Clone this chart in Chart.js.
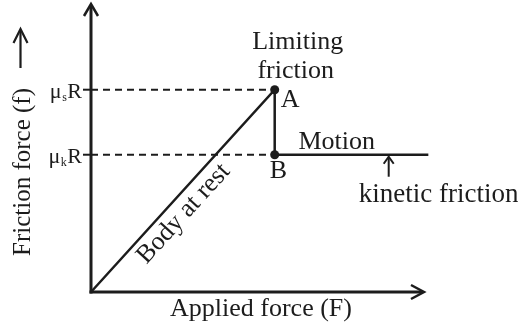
<!DOCTYPE html>
<html><head><meta charset="utf-8">
<script src="https://cdn.jsdelivr.net/npm/chart.js@4.4.1/dist/chart.umd.min.js"></script>
<style>html,body{margin:0;padding:0;background:#fff}#wrap{position:relative;width:518px;height:331px}</style>
</head><body><div id="wrap"><canvas id="c"></canvas></div>
<script>
// ---- data ----
const categories = ['O', 'A', 'B', 'Motion end'];
const appliedForce = [0, 5.5, 5.5, 10.1];
const frictionForce = [0, 7, 4.75, 4.75];
const tickValues = [7, 4.75];
const tickLabels = [['μ', 's', 'R'], ['μ', 'k', 'R']];
const pointNames = ['A', 'B'];
const xTitle = 'Applied force (F)';
const yTitle = 'Friction force (f)';
const noteLimiting = ['Limiting', 'friction'];
const noteMotion = 'Motion';
const noteKinetic = 'kinetic friction';
const noteRest = 'Body at rest';

const ink = '#1c1c1c';
const SERIF = '"Liberation Serif","Times New Roman",serif';

function arrowHead(ctx, tipX, tipY, dirX, dirY, len, half) {
  const bx = tipX - dirX * len, by = tipY - dirY * len;
  const px = -dirY, py = dirX;
  ctx.beginPath();
  ctx.moveTo(bx + px * half, by + py * half);
  ctx.lineTo(tipX, tipY);
  ctx.lineTo(bx - px * half, by - py * half);
  ctx.stroke();
}

const decor = {
  id: 'decor',
  beforeDatasetsDraw(chart) {
    const { ctx, chartArea: a } = chart;
    ctx.save();
    ctx.strokeStyle = ink;
    ctx.lineWidth = 3;
    ctx.beginPath(); ctx.moveTo(a.left, a.bottom + 1.5); ctx.lineTo(a.left, a.top + 2); ctx.stroke();
    ctx.beginPath(); ctx.moveTo(a.left - 1.5, a.bottom); ctx.lineTo(a.right - 2, a.bottom); ctx.stroke();
    ctx.lineWidth = 2.5;
    arrowHead(ctx, a.left, a.top + 1, 0, -1, 12, 7);
    arrowHead(ctx, a.right - 1, a.bottom, 1, 0, 13, 7);
    const ys = chart.scales.y;
    ctx.lineWidth = 2;
    tickValues.forEach(v => {
      const py = ys.getPixelForValue(v);
      ctx.beginPath(); ctx.moveTo(a.left - 8, py); ctx.lineTo(a.left, py); ctx.stroke();
    });
    ctx.restore();
  },
  afterDraw(chart) {
    const { ctx, chartArea: a } = chart;
    const xs = chart.scales.x, ys = chart.scales.y;
    ctx.save();
    ctx.fillStyle = ink;
    ctx.strokeStyle = ink;
    ctx.textBaseline = 'alphabetic';
    // tick labels with subscripts (right-aligned)
    tickValues.forEach((v, i) => {
      const [m, sub, r] = tickLabels[i];
      const py = ys.getPixelForValue(v) + 8;
      let x = a.left - 9;
      ctx.textAlign = 'left';
      ctx.font = '22px ' + SERIF;
      const wr = ctx.measureText(r).width;
      ctx.fillText(r, x - wr, py);
      x -= wr;
      ctx.font = '12px ' + SERIF;
      const ws = ctx.measureText(sub).width;
      ctx.fillText(sub, x - ws - 0.5, py + 3);
      x -= ws + 1;
      ctx.font = '22px ' + SERIF;
      const wm = ctx.measureText(m).width;
      ctx.fillText(m, x - wm, py);
    });
    const ax = xs.getPixelForValue(appliedForce[1]);
    const ay = ys.getPixelForValue(frictionForce[1]);
    const by = ys.getPixelForValue(frictionForce[2]);
    ctx.font = '26px ' + SERIF;
    ctx.textAlign = 'left';
    ctx.fillText(pointNames[0], ax + 6, ay + 17);
    ctx.fillText(pointNames[1], ax - 5, by + 23);
    ctx.textAlign = 'center';
    ctx.fillText(noteLimiting[0], ax + 23, ay - 41);
    ctx.fillText(noteLimiting[1], ax + 21, ay - 12);
    ctx.fillText(noteMotion, ax + 62, by - 6);
    ctx.font = '27px ' + SERIF;
    ctx.fillText(noteKinetic, ax + 164, by + 47);
    ctx.lineWidth = 2;
    const kx = ax + 114;
    ctx.beginPath(); ctx.moveTo(kx, by + 22); ctx.lineTo(kx, by + 3); ctx.stroke();
    arrowHead(ctx, kx, by + 2, 0, -1, 7, 5);
    ctx.font = '26px ' + SERIF;
    ctx.fillText(xTitle, 261, a.bottom + 24);
    // y title rotated
    ctx.save();
    ctx.font = '25px ' + SERIF;
    ctx.translate(30, 172);
    ctx.rotate(-Math.PI / 2);
    ctx.fillText(yTitle, 0, 0);
    ctx.restore();
    ctx.lineWidth = 2.2;
    ctx.beginPath(); ctx.moveTo(20.5, 68); ctx.lineTo(20.5, 30); ctx.stroke();
    arrowHead(ctx, 20.5, 29, 0, -1, 14, 7);
    // body at rest along the line
    const ox = xs.getPixelForValue(appliedForce[0]), oy = ys.getPixelForValue(frictionForce[0]);
    const ang = Math.atan2(ay - oy, ax - ox);
    const t = 0.44;
    ctx.font = '26px ' + SERIF;
    ctx.save();
    ctx.translate(ox + (ax - ox) * t, oy + (ay - oy) * t);
    ctx.rotate(ang);
    ctx.textBaseline = 'top';
    ctx.fillText(noteRest, 0, 3);
    ctx.restore();
    ctx.restore();
  }
};

const pts = appliedForce.map((x, i) => ({ x, y: frictionForce[i] }));
new Chart(document.getElementById('c'), {
  type: 'line',
  data: {
    labels: categories,
    datasets: [
      { label: 'Friction', data: pts, borderColor: ink, borderWidth: 2.5, tension: 0, fill: false,
        pointRadius: [0, 4.5, 4.5, 0], pointBackgroundColor: ink, pointBorderWidth: 0, clip: false },
      { label: 'Static level', data: [{ x: 0, y: tickValues[0] }, { x: appliedForce[1], y: tickValues[0] }],
        borderColor: ink, borderWidth: 2, borderDash: [7, 5], pointRadius: 0, clip: false },
      { label: 'Kinetic level', data: [{ x: 0, y: tickValues[1] }, { x: appliedForce[2], y: tickValues[1] }],
        borderColor: ink, borderWidth: 2, borderDash: [7, 5], pointRadius: 0, clip: false }
    ]
  },
  options: {
    responsive: true, maintainAspectRatio: false, animation: false, devicePixelRatio: 1,
    layout: { padding: { left: 91, right: 93, top: 3, bottom: 39 } },
    plugins: { legend: { display: false }, tooltip: { enabled: false } },
    scales: {
      x: { type: 'linear', min: 0, max: 10, display: false },
      y: { type: 'linear', min: 0, max: 10, display: false }
    }
  },
  plugins: [decor]
});
</script></body></html>
